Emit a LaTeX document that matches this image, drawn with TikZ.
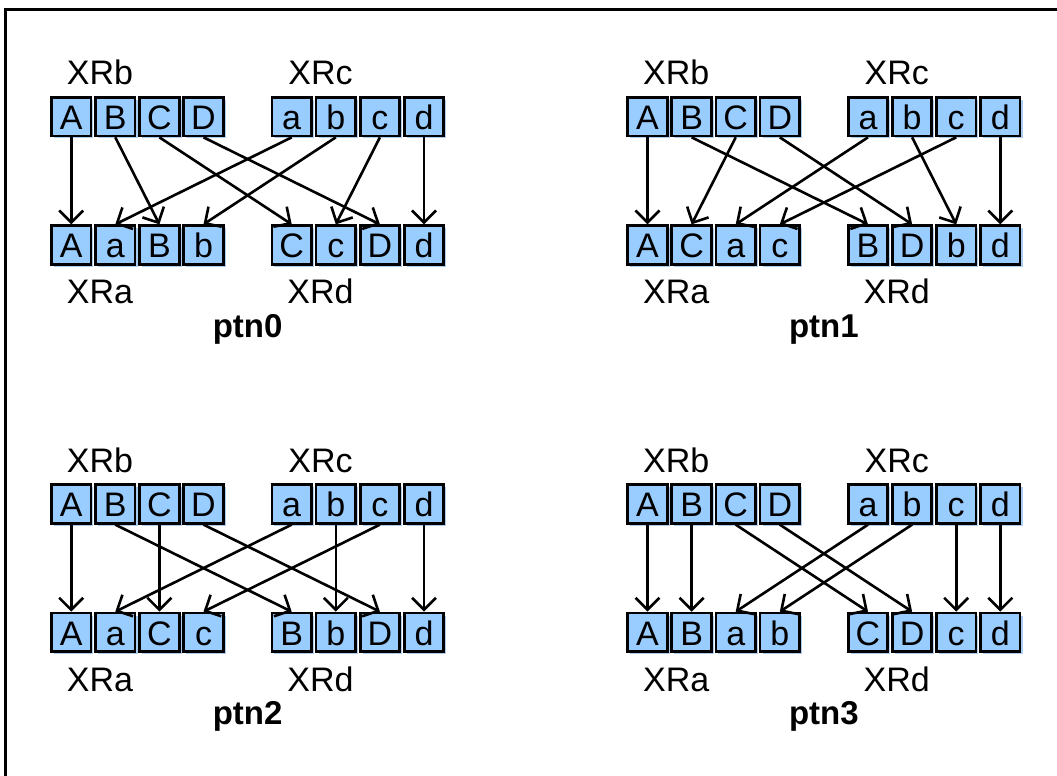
\documentclass[tikz,border=0pt]{standalone}
\usepackage{fontspec}
\setmainfont{Liberation Sans}
\usetikzlibrary{arrows.meta,shadows}

\definecolor{cellblue}{RGB}{153,204,255}
\definecolor{cellshade}{RGB}{170,206,242}

% one shuffle: top row A..D a..d, bottom row as letter/slot pairs
% #1 prefix, #2 centre of the first top cell, #3 bottom row, #4 caption
\newcommand\ptnpanel[4]{%
  \begin{scope}[shift={#2}]
    \foreach \l/\s in {A/0,B/1,C/2,D/3,a/5,b/6,c/7,d/8}
      \node[cell] (#1t\l) at (\s*44.1,0) {\l};
    \foreach \l/\s in {#3}
      \node[cell] (#1b\l) at (\s*44.1,-128.3) {\l};
    \foreach \l in {A,B,C,D,a,b,c,d}
      \draw[link] (#1t\l.south) -- (#1b\l.north);
    \node[reg] (#1xrb) at (28.8,31.7) {XRb};
    \node[reg] (#1xrc) at (249.3,31.7) {XRc};
    \node[reg] (#1xra) at (28.8,-187.3) {XRa};
    \node[reg] (#1xrd) at (249.3,-187.3) {XRd};
    \node[reg,font=\fontsize{33}{38}\selectfont\bfseries] (#1cap) at (176.4,-221) {#4};
  \end{scope}}

\begin{document}
\begin{tikzpicture}[x=1pt,y=1pt,>={Straight Barb[angle=90:17pt]},
  cell/.style={draw,line width=2.8pt,fill=cellblue,inner sep=0pt,
    minimum width=39.5pt,minimum height=38.5pt,text height=26pt,text depth=0pt,
    drop shadow={shadow xshift=2.5pt,shadow yshift=-2.5pt,fill=cellshade,opacity=1},
    font=\fontsize{34}{38}\selectfont},
  reg/.style={anchor=base,inner sep=0pt,font=\fontsize{34}{38}\selectfont},
  link/.style={->,line width=2.6pt}]

  \useasboundingbox (0,0) rectangle (1057,776);
  \draw[line width=3pt] (5,-10) |- (1070,766);

  \ptnpanel{p0}{(71.2,659.3)}{A/0,a/1,B/2,b/3,C/5,c/6,D/7,d/8}{ptn0}
  \ptnpanel{p1}{(647.5,659.3)}{A/0,C/1,a/2,c/3,B/5,D/6,b/7,d/8}{ptn1}
  \ptnpanel{p2}{(71.2,272)}{A/0,a/1,C/2,c/3,B/5,b/6,D/7,d/8}{ptn2}
  \ptnpanel{p3}{(647.5,272)}{A/0,B/1,a/2,b/3,C/5,D/6,c/7,d/8}{ptn3}
\end{tikzpicture}
\end{document}
